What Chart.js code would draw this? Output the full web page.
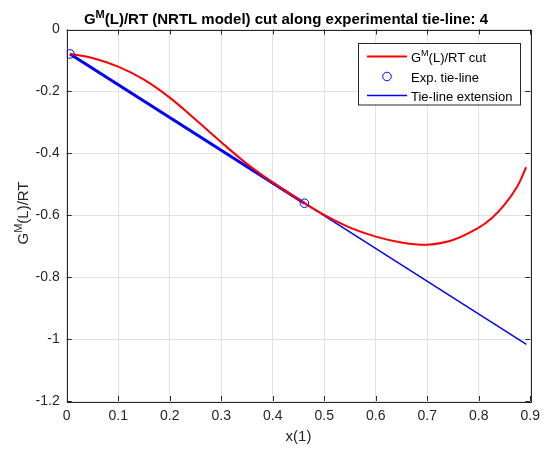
<!DOCTYPE html>
<html>
<head>
<meta charset="utf-8">
<script src="https://cdn.jsdelivr.net/npm/chart.js@4.4.0/dist/chart.umd.min.js"></script>
<style>
  html, body { margin: 0; padding: 0; background: #fff; }
</style>
</head>
<body>
<canvas id="chart-area" width="547" height="449"></canvas>
<script>
// G^M(L)/RT along the tie-line (red curve)
var curveX = [0.0064, 0.05, 0.1, 0.15, 0.2, 0.25, 0.3, 0.35, 0.4, 0.45, 0.5, 0.55, 0.6, 0.65, 0.7, 0.75, 0.8, 0.825, 0.85, 0.875, 0.892];
var curveY = [-0.079, -0.092, -0.120, -0.162, -0.220, -0.291, -0.364, -0.434, -0.494, -0.549, -0.599, -0.640, -0.669, -0.688, -0.695, -0.680, -0.640, -0.610, -0.566, -0.506, -0.445];

// experimental tie-line end points
var tieX = [0.0064, 0.4615];
var tieY = [-0.079, -0.561];

// extension of the tie-line
var extX = [0.0064, 0.8925];
var extY = [-0.079, -1.017];

var xTicks = [0, 0.1, 0.2, 0.3, 0.4, 0.5, 0.6, 0.7, 0.8, 0.9];
var xTickLabels = ['0', '0.1', '0.2', '0.3', '0.4', '0.5', '0.6', '0.7', '0.8', '0.9'];
var yTicks = [-1.2, -1, -0.8, -0.6, -0.4, -0.2, 0];
var yTickLabels = ['-1.2', '-1', '-0.8', '-0.6', '-0.4', '-0.2', '0'];

var FONT = '"Liberation Sans", Arial, sans-serif';
var AXIS = '#262626';

function pts(xs, ys) {
    return xs.map(function (x, i) { return { x: x, y: ys[i] }; });
}

// text with a superscript part, parts = [[text, isSup], ...]
function richWidth(ctx, parts, size, bold) {
    var w = 0;
    parts.forEach(function (p) {
        ctx.font = (bold ? 'bold ' : '') + (p[1] ? Math.round(size * 0.7) : size) + 'px ' + FONT;
        w += ctx.measureText(p[0]).width;
    });
    return w;
}
function drawRich(ctx, parts, x, y, size, bold) {
    ctx.textBaseline = 'alphabetic';
    ctx.textAlign = 'left';
    parts.forEach(function (p) {
        var s = p[1] ? Math.round(size * 0.7) : size;
        ctx.font = (bold ? 'bold ' : '') + s + 'px ' + FONT;
        ctx.fillText(p[0], x, p[1] ? y - size * 0.42 : y);
        x += ctx.measureText(p[0]).width;
    });
}

var frame = {
    id: 'frame',
    afterDraw: function (chart) {
        var ctx = chart.ctx;
        var a = chart.chartArea;
        var xs = chart.scales.x, ys = chart.scales.y;
        ctx.save();

        // box and inward ticks
        ctx.strokeStyle = AXIS;
        ctx.lineWidth = 1;
        ctx.strokeRect(Math.round(a.left) + 0.5, Math.round(a.top) + 0.5,
            Math.round(a.right - a.left), Math.round(a.bottom - a.top));
        ctx.beginPath();
        xTicks.forEach(function (v) {
            var px = Math.round(xs.getPixelForValue(v)) + 0.5;
            ctx.moveTo(px, a.bottom); ctx.lineTo(px, a.bottom - 5);
            ctx.moveTo(px, a.top); ctx.lineTo(px, a.top + 5);
        });
        yTicks.forEach(function (v) {
            var py = Math.round(ys.getPixelForValue(v)) + 0.5;
            ctx.moveTo(a.left, py); ctx.lineTo(a.left + 5, py);
            ctx.moveTo(a.right, py); ctx.lineTo(a.right - 5, py);
        });
        ctx.stroke();

        // title
        ctx.fillStyle = '#000';
        var title = [['G', false], ['M', true], ['(L)/RT (NRTL model) cut along experimental tie-line: 4', false]];
        var tw = richWidth(ctx, title, 15, true);
        drawRich(ctx, title, 286 - tw / 2, 24, 15, true);

        // axis labels
        ctx.fillStyle = AXIS;
        ctx.font = '15px ' + FONT;
        ctx.textAlign = 'center';
        ctx.textBaseline = 'middle';
        ctx.fillText('x(1)', (a.left + a.right) / 2, 437);

        var ylab = [['G', false], ['M', true], ['(L)/RT', false]];
        var yw = richWidth(ctx, ylab, 15, false);
        ctx.save();
        ctx.translate(28, 213);
        ctx.rotate(-Math.PI / 2);
        ctx.fillStyle = AXIS;
        drawRich(ctx, ylab, -yw / 2, 0, 15, false);
        ctx.restore();

        // legend
        var lx = 358.5, ly = 43.5, lw = 162, lh = 61.5;
        ctx.fillStyle = '#fff';
        ctx.fillRect(lx, ly, lw, lh);
        ctx.strokeStyle = AXIS;
        ctx.lineWidth = 1;
        ctx.strokeRect(lx, ly, lw, lh);
        var rows = [56.5, 76.5, 95.5];
        ctx.lineWidth = 2;
        ctx.strokeStyle = '#ff0000';
        ctx.beginPath(); ctx.moveTo(367, rows[0]); ctx.lineTo(407, rows[0]); ctx.stroke();
        ctx.lineWidth = 1;
        ctx.strokeStyle = '#0000ff';
        ctx.beginPath(); ctx.arc(387, rows[1], 4.3, 0, Math.PI * 2); ctx.stroke();
        ctx.lineWidth = 1.5;
        ctx.beginPath(); ctx.moveTo(367, rows[2]); ctx.lineTo(407, rows[2]); ctx.stroke();
        ctx.fillStyle = '#000';
        drawRich(ctx, [['G', false], ['M', true], ['(L)/RT cut', false]], 411, rows[0] + 5, 13, false);
        drawRich(ctx, [['Exp. tie-line', false]], 411, rows[1] + 5, 13, false);
        drawRich(ctx, [['Tie-line extension', false]], 411, rows[2] + 5, 13, false);

        ctx.restore();
    }
};

var ctx = document.getElementById('chart-area').getContext('2d');
var config = {
    type: 'scatter',
    data: {
        datasets: [
            {
                label: 'Exp. tie-line',
                data: pts(tieX, tieY),
                showLine: false,
                pointRadius: 4.3,
                pointBorderWidth: 1,
                pointBorderColor: '#0000ff',
                pointBackgroundColor: 'rgba(0,0,0,0)'
            },
            {
                label: 'GM(L)/RT cut',
                data: pts(curveX, curveY),
                showLine: true,
                borderColor: '#ff0000',
                borderWidth: 2,
                pointRadius: 0,
                tension: 0.4
            },
            {
                label: 'tie-line',
                data: pts(tieX, tieY),
                showLine: true,
                borderColor: '#0000ff',
                borderWidth: 3,
                pointRadius: 0
            },
            {
                label: 'Tie-line extension',
                data: pts(extX, extY),
                showLine: true,
                borderColor: '#0000ff',
                borderWidth: 1.5,
                pointRadius: 0
            }
        ]
    },
    options: {
        responsive: false,
        animation: false,
        devicePixelRatio: 1,
        layout: { padding: { left: 0, right: 12.3, top: 29.5, bottom: 0 } },
        plugins: {
            legend: { display: false },
            title: { display: false },
            tooltip: { enabled: false }
        },
        scales: {
            x: {
                type: 'linear',
                min: 0,
                max: 0.9,
                afterBuildTicks: function (s) { s.ticks = xTicks.map(function (v) { return { value: v }; }); },
                afterFit: function (s) { s.height = 48; },
                grid: { color: '#e2e2e2', drawTicks: false },
                border: { display: false },
                ticks: {
                    padding: 7,
                    color: AXIS,
                    font: { family: FONT, size: 14 },
                    maxRotation: 0,
                    autoSkip: false,
                    callback: function (v, i) { return xTickLabels[i]; }
                }
            },
            y: {
                type: 'linear',
                min: -1.2,
                max: 0,
                afterBuildTicks: function (s) { s.ticks = yTicks.map(function (v) { return { value: v }; }); },
                afterFit: function (s) { s.width = 66.7; },
                grid: { color: '#e2e2e2', drawTicks: false },
                border: { display: false },
                ticks: {
                    padding: 7,
                    color: AXIS,
                    font: { family: FONT, size: 14 },
                    autoSkip: false,
                    callback: function (v, i) { return yTickLabels[i]; }
                }
            }
        }
    },
    plugins: [frame]
};
var chart = new Chart(ctx, config);
</script>
</body>
</html>
